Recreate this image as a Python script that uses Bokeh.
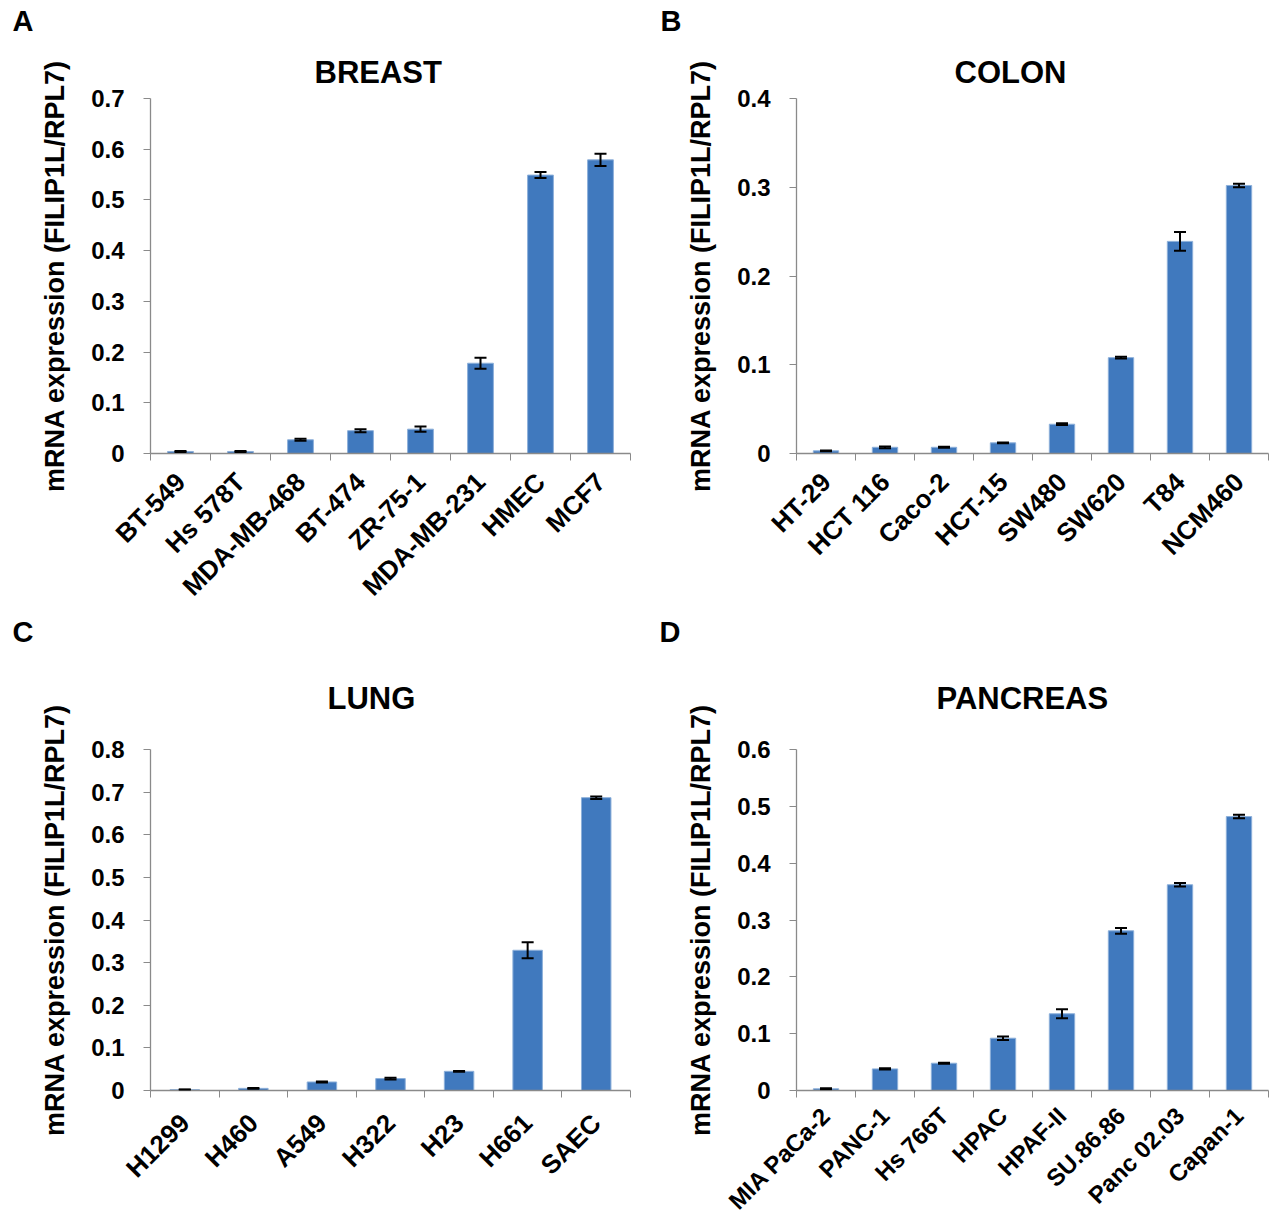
from math import pi
from bokeh.plotting import figure
from bokeh.models import (ColumnDataSource, FixedTicker, Whisker, TeeHead, Title, Range1d)
from bokeh.layouts import column, row
from bokeh.embed import file_html
from bokeh.resources import INLINE

# ---------------- data ----------------
breast_cells = ["BT-549", "Hs 578T", "MDA-MB-468", "BT-474", "ZR-75-1", "MDA-MB-231", "HMEC", "MCF7"]
breast_vals = [0.004, 0.004, 0.027, 0.045, 0.048, 0.178, 0.549, 0.579]
breast_err = [0.001, 0.001, 0.002, 0.003, 0.005, 0.011, 0.006, 0.012]
breast_yticks = [0, 0.1, 0.2, 0.3, 0.4, 0.5, 0.6, 0.7]
breast_ylabels = ["0", "0.1", "0.2", "0.3", "0.4", "0.5", "0.6", "0.7"]

colon_cells = ["HT-29", "HCT 116", "Caco-2", "HCT-15", "SW480", "SW620", "T84", "NCM460"]
colon_vals = [0.003, 0.007, 0.007, 0.012, 0.033, 0.108, 0.239, 0.302]
colon_err = [0.0005, 0.001, 0.0005, 0.0005, 0.001, 0.001, 0.0105, 0.002]
colon_yticks = [0, 0.1, 0.2, 0.3, 0.4]
colon_ylabels = ["0", "0.1", "0.2", "0.3", "0.4"]

lung_cells = ["H1299", "H460", "A549", "H322", "H23", "H661", "SAEC"]
lung_vals = [0.002, 0.005, 0.020, 0.028, 0.045, 0.329, 0.687]
lung_err = [0.0005, 0.001, 0.001, 0.002, 0.001, 0.019, 0.003]
lung_yticks = [0, 0.1, 0.2, 0.3, 0.4, 0.5, 0.6, 0.7, 0.8]
lung_ylabels = ["0", "0.1", "0.2", "0.3", "0.4", "0.5", "0.6", "0.7", "0.8"]

panc_cells = ["MIA PaCa-2", "PANC-1", "Hs 766T", "HPAC", "HPAF-II", "SU.86.86", "Panc 02.03", "Capan-1"]
panc_vals = [0.003, 0.038, 0.048, 0.092, 0.135, 0.281, 0.362, 0.482]
panc_err = [0.001, 0.001, 0.001, 0.003, 0.008, 0.005, 0.003, 0.003]
panc_yticks = [0, 0.1, 0.2, 0.3, 0.4, 0.5, 0.6]
panc_ylabels = ["0", "0.1", "0.2", "0.3", "0.4", "0.5", "0.6"]

y_axis_title = "mRNA expression (FILIP1L/RPL7)"

FONT = "Liberation Sans"
BAR = "#4079BE"
BAR_EDGE = "#8DB0DA"
AXIS = "#8A8A8A"


def make_panel(letter, title, cells, vals, errs, yticks, ylabels,
               w, h, bl, br, bb,
               title_off, title_standoff, title_valign,
               letter_off, letter_standoff,
               xfont, xstandoff):
    n = len(cells)
    centers = [i + 0.5 for i in range(n)]
    bounds = list(range(n + 1))
    src = ColumnDataSource(dict(
        x=centers, v=vals,
        upper=[v + e for v, e in zip(vals, errs)],
        lower=[v - e for v, e in zip(vals, errs)],
    ))
    p = figure(width=w, height=h, output_backend="svg", toolbar_location=None,
               x_range=Range1d(0, n), y_range=Range1d(0, yticks[-1]),
               min_border_left=bl, min_border_right=br,
               min_border_top=0, min_border_bottom=bb)
    p.outline_line_color = None
    p.xgrid.visible = False
    p.ygrid.visible = False
    p.background_fill_color = "white"
    p.border_fill_color = "white"

    # main title (nearest to the frame)
    p.add_layout(Title(text=title, align="left", offset=title_off, standoff=title_standoff,
                       vertical_align=title_valign,
                       text_font=FONT, text_font_style="bold", text_font_size="31px",
                       text_color="black"), "above")
    # panel letter (outermost)
    p.title = Title(text=letter, align="left", offset=letter_off, standoff=letter_standoff,
                    vertical_align="top",
                    text_font=FONT, text_font_style="bold", text_font_size="29px",
                    text_color="black")

    p.vbar(x="x", top="v", width=0.43, bottom=0, source=src,
           fill_color=BAR, line_color=BAR_EDGE, line_width=1)
    wh = Whisker(base="x", upper="upper", lower="lower", source=src,
                 line_color="black", line_width=2, level="overlay",
                 upper_head=TeeHead(size=12, line_width=2, line_color="black"),
                 lower_head=TeeHead(size=12, line_width=2, line_color="black"))
    p.add_layout(wh)

    xa = p.xaxis[0]
    xa.ticker = FixedTicker(ticks=centers, minor_ticks=bounds)
    xa.major_label_overrides = {c: name for c, name in zip(centers, cells)}
    xa.major_label_orientation = pi / 4
    xa.major_tick_out = 0
    xa.major_tick_in = 0
    xa.minor_tick_out = 7
    xa.minor_tick_in = 0
    xa.minor_tick_line_color = AXIS
    xa.axis_line_color = AXIS
    xa.axis_line_width = 1.3
    xa.major_label_text_font = FONT
    xa.major_label_text_font_style = "bold"
    xa.major_label_text_font_size = xfont
    xa.major_label_text_color = "black"
    xa.major_label_standoff = xstandoff

    ya = p.yaxis[0]
    ya.ticker = FixedTicker(ticks=yticks, minor_ticks=[])
    ya.major_label_overrides = {t: s for t, s in zip(yticks, ylabels)}
    ya.major_tick_out = 7
    ya.major_tick_in = 0
    ya.major_tick_line_color = AXIS
    ya.minor_tick_line_color = None
    ya.axis_line_color = AXIS
    ya.axis_line_width = 1.3
    ya.major_label_text_font = FONT
    ya.major_label_text_font_style = "bold"
    ya.major_label_text_font_size = "24px"
    ya.major_label_text_color = "black"
    ya.major_label_standoff = 19
    ya.axis_label = y_axis_title
    ya.axis_label_text_font = FONT
    ya.axis_label_text_font_style = "bold"
    ya.axis_label_text_font_size = "27px"
    ya.axis_label_text_color = "black"
    ya.axis_label_standoff = 18
    return p


W = 635
H1, H2 = 615, 611
pA = make_panel("A", "BREAST", breast_cells, breast_vals, breast_err, breast_yticks, breast_ylabels,
                W, H1, 150, 5, 162, 164, 18, "bottom", -138, 9, "26px", 17)
pB = make_panel("B", "COLON", colon_cells, colon_vals, colon_err, colon_yticks, colon_ylabels,
                W, H1, 161, 2, 162, 158, 18, "bottom", -136, 9, "26px", 17)
pC = make_panel("C", "LUNG", lung_cells, lung_vals, lung_err, lung_yticks, lung_ylabels,
                W, H2, 150, 5, 136, 177, 63, "top", -138, 0, "26px", 21)
pD = make_panel("D", "PANCREAS", panc_cells, panc_vals, panc_err, panc_yticks, panc_ylabels,
                W, H2, 161, 2, 136, 140, 63, "top", -137, 0, "24px", 14)

layout = column(row(pA, pB, spacing=0), row(pC, pD, spacing=0), spacing=0)
open("out.html", "w").write(file_html(layout, INLINE))
